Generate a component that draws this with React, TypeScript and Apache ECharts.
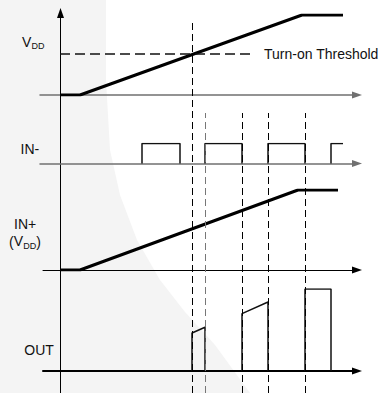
import React, { useEffect, useRef } from "react";
import * as echarts from "echarts";

// ---- data (time in horizontal units from the vertical axis, levels 0..1 per trace) ----
const vddTime = [0, 20, 242, 283];
const vddLevel = [0, 0, 1, 1];
const thresholdLevel = 0.5125;
const thresholdEnd = 193;

const inMinusRise = [82, 145, 208, 271];
const inMinusFall: (number | null)[] = [120, 182, 245, null];
const inMinusLastEnd = 283;

const inPlusTime = [0, 20, 238, 278];
const inPlusLevel = [0, 0, 1, 1];

const outRise = [132, 182, 245];
const outFall = [145, 208, 271];
const outStartLevel = [0.463, 0.699, 1];
const outEndLevel = [0.533, 0.841, 1];

const edgeTimes = [132, 145, 182, 208, 245];
const edgeTop = [373, 280, 280, 280, 280];

const FONT = "Liberation Sans, Arial, sans-serif";

function xAxisFor(gridIndex: number, min: number, color: string, width: number) {
  return {
    type: "value",
    gridIndex,
    min,
    max: 297,
    axisLine: {
      show: true,
      onZero: true,
      symbol: ["none", "triangle"],
      symbolSize: [7, 10],
      lineStyle: { color, width },
    },
    axisTick: { show: false },
    axisLabel: { show: false },
    splitLine: { show: false },
  };
}

function yAxisFor(gridIndex: number, min: number, max: number) {
  return { type: "value", gridIndex, min, max, show: false };
}

function lineSeries(xi: number, data: number[][], width: number, color: string, type: any = "solid") {
  return {
    type: "line",
    xAxisIndex: xi,
    yAxisIndex: xi,
    data,
    symbol: "none",
    silent: true,
    lineStyle: { width, color, type },
  };
}

function text(x: number, y: number, t: string, size: number) {
  return {
    type: "text",
    x,
    y,
    style: {
      text: t,
      font: `${size}px ${FONT}`,
      fill: "#111",
      align: "left",
      verticalAlign: "middle",
      textAlign: "left",
      textVerticalAlign: "middle",
    },
  };
}

export default function App() {
  const ref = useRef<HTMLDivElement>(null);
  useEffect(() => {
    document.body.style.margin = "0";
    const chart = echarts.init(ref.current!, undefined, { renderer: "svg" });

    const series: any[] = [];
    series.push(lineSeries(0, vddTime.map((t, i) => [t, vddLevel[i]]), 3, "#000"));
    series.push(lineSeries(0, [[0, thresholdLevel], [thresholdEnd, thresholdLevel]], 1.5, "#111", [10, 5]));

    inMinusRise.forEach((r, i) => {
      const f = inMinusFall[i];
      const d = f === null
        ? [[r, 0], [r, 1], [inMinusLastEnd, 1]]
        : [[r, 0], [r, 1], [f, 1], [f, 0]];
      series.push(lineSeries(1, d, 1.5, "#111"));
    });

    series.push(lineSeries(2, inPlusTime.map((t, i) => [t, inPlusLevel[i]]), 3, "#000"));

    outRise.forEach((r, i) => {
      series.push(
        lineSeries(3, [[r, 0], [r, outStartLevel[i]], [outFall[i], outEndLevel[i]], [outFall[i], 0]], 1.5, "#111")
      );
    });

    edgeTimes.forEach((t, i) => {
      series.push(lineSeries(4, [[t, 0], [t, edgeTop[i]]], 1, i === 1 ? "#777" : "#000", [7, 4]));
    });

    chart.setOption({
      animation: false,
      backgroundColor: "#fff",
      grid: [
        { left: 40, right: 23, top: 15, height: 80 },
        { left: 40, right: 23, top: 143.5, height: 20 },
        { left: 43, right: 23, top: 190, height: 80 },
        { left: 43, right: 23, top: 289, height: 82 },
        { left: 60.5, right: 23, top: 13, bottom: 0 },
      ],
      xAxis: [
        xAxisFor(0, -20, "#707070", 1.5),
        xAxisFor(1, -20, "#707070", 1.5),
        xAxisFor(2, -17, "#000", 1),
        xAxisFor(3, -17, "#000", 2),
        { type: "value", gridIndex: 4, min: 0, max: 296.5, show: false },
      ],
      yAxis: [
        yAxisFor(0, 0, 1),
        yAxisFor(1, 0, 1),
        yAxisFor(2, 0, 1),
        yAxisFor(3, 0, 1),
        {
          type: "value",
          gridIndex: 4,
          min: 0,
          max: 380,
          axisLine: {
            show: true,
            symbol: ["none", "triangle"],
            symbolSize: [7, 10],
            lineStyle: { color: "#000", width: 1 },
          },
          axisTick: { show: false },
          axisLabel: { show: false },
          splitLine: { show: false },
        },
      ],
      series,
      graphic: [
        {
          type: "polygon",
          z: -10,
          silent: true,
          shape: {
            points: [
              [0, 0], [106, 0], [106, 80], [110, 150], [120, 195], [137, 240],
              [160, 280], [185, 312], [215, 345], [250, 393], [0, 393],
            ],
          },
          style: { fill: "#f4f4f4" },
        },
        text(22, 41.5, "V", 14),
        text(31.5, 46, "DD", 9),
        text(264, 53.5, "Turn-on Threshold", 14),
        text(20.5, 149, "IN-", 14),
        text(14, 224, "IN+", 14),
        text(9, 242, "(", 14),
        text(13.7, 241.3, "V", 14),
        text(23.2, 245.9, "DD", 9),
        text(36.2, 242, ")", 14),
        text(24.3, 350, "OUT", 14),
      ],
    });
    return () => chart.dispose();
  }, []);
  return <div ref={ref} style={{ width: 380, height: 393 }} />;
}
